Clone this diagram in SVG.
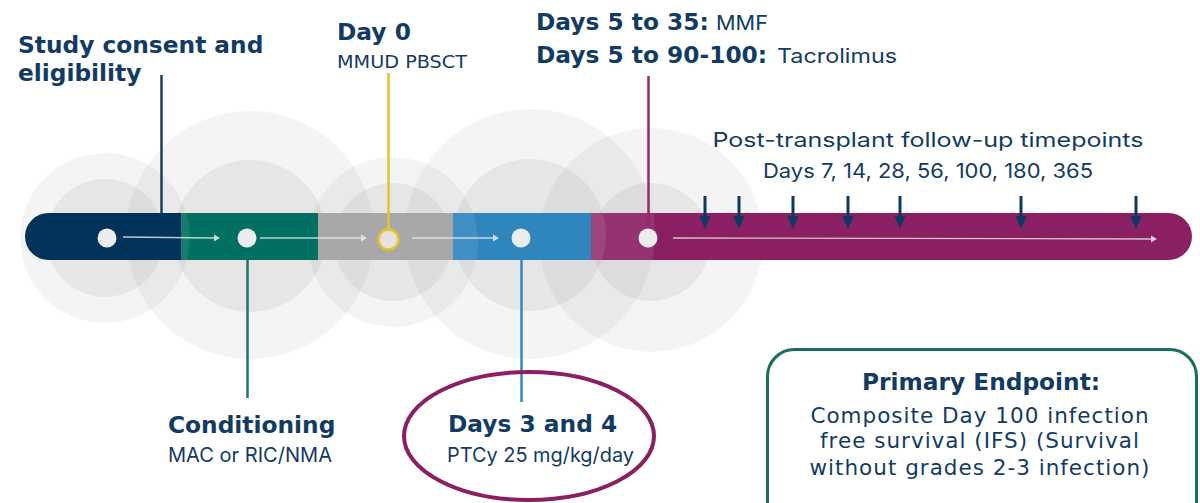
<svg xmlns="http://www.w3.org/2000/svg" width="1200" height="503" viewBox="0 0 1200 503">
<style>
.t{fill:#123b64}
.b{font-family:"DejaVu Sans",Verdana,sans-serif;font-weight:bold;font-size:23.3px}
.r{font-family:"DejaVu Sans",Verdana,sans-serif;font-size:18.5px}
.g{font-family:Inter,"Noto Sans",sans-serif;font-size:20px}
.body{font-family:"DejaVu Sans",Verdana,sans-serif;font-size:21.5px;letter-spacing:1px}
.co{fill:#000;fill-opacity:0.042}
.ci{fill:#000;fill-opacity:0.055}
.dot{fill:#ececec}
.flow{stroke:#ececec;stroke-opacity:0.8;stroke-width:1.3;fill:none}
.ah{fill:#ececec;fill-opacity:0.85}
.tick{fill:#0d3a63}
.ov{fill:#fff;fill-opacity:0.09}
</style>
<defs>
<clipPath id="cTeal"><rect x="181" y="213" width="137" height="47"/></clipPath>
<clipPath id="cBlue"><rect x="453" y="213" width="138" height="47"/></clipPath>
<clipPath id="cPurp"><rect x="591" y="213" width="601" height="47"/></clipPath>
</defs>

<g id="halos">
<circle class="co" cx="105" cy="238" r="85"/>
<circle class="ci" cx="105" cy="238" r="59"/>
<circle class="co" cx="250" cy="235" r="124"/>
<circle class="ci" cx="250" cy="236" r="76"/>
<circle class="co" cx="393" cy="242" r="85"/>
<circle class="ci" cx="393" cy="242" r="59"/>
<circle class="co" cx="530" cy="234" r="125"/>
<circle class="ci" cx="530" cy="235" r="76"/>
<circle class="co" cx="651" cy="240" r="112"/>
<circle class="ci" cx="651" cy="242" r="59"/>
</g>

<g id="timeline-bar">
<path d="M48.5 213 H181 V260 H48.5 A23.5 23.5 0 0 1 48.5 213 Z" fill="#01335a"/>
<rect x="181" y="213" width="137" height="47" fill="#016f62"/>
<rect x="318" y="213" width="135" height="47" fill="#a8a8a8"/>
<rect x="453" y="213" width="138" height="47" fill="#2e86bd"/>
<path d="M591 213 H1168.5 A23.5 23.5 0 0 1 1168.5 260 H591 Z" fill="#8a1f62"/>
<circle class="ov" cx="105" cy="238" r="85" clip-path="url(#cTeal)"/>
<circle class="ov" cx="393" cy="242" r="85" clip-path="url(#cBlue)"/>
<circle class="ov" cx="530" cy="234" r="125" clip-path="url(#cPurp)"/>
<circle class="ov" cx="530" cy="235" r="76" clip-path="url(#cPurp)"/>
</g>

<g id="connectors">
<line x1="161.5" y1="75" x2="161.5" y2="213" stroke="#1c3e66" stroke-width="2.5"/>
<line x1="388.5" y1="73" x2="388.5" y2="229" stroke="#e6c22c" stroke-width="2.5"/>
<line x1="648.5" y1="76" x2="648.5" y2="229" stroke="#962a6c" stroke-width="2.5"/>
<line x1="247.5" y1="260" x2="247.5" y2="398" stroke="#19786a" stroke-width="2.5"/>
<line x1="521.5" y1="260" x2="521.5" y2="402" stroke="#2f88c8" stroke-width="2.5"/>
<line class="flow" x1="123" y1="237" x2="214" y2="238"/>
<path class="ah" d="M214 234.5 L220 238 L214 241.5 Z"/>
<line class="flow" x1="260" y1="238" x2="361" y2="238"/>
<path class="ah" d="M361 234.5 L367 238 L361 241.5 Z"/>
<line class="flow" x1="412" y1="238" x2="493" y2="238"/>
<path class="ah" d="M493 234.5 L499 238 L493 241.5 Z"/>
<line class="flow" x1="673" y1="238" x2="1151" y2="239"/>
<path class="ah" d="M1151 235.5 L1157 239 L1151 242.5 Z"/>
</g>

<g id="followup-ticks">
<g class="tick">
<rect x="703.5" y="196" width="3" height="22"/><path d="M699.5 216 H710.5 L705 229 Z"/>
<rect x="737.5" y="196" width="3" height="22"/><path d="M733.5 216 H744.5 L739 229 Z"/>
<rect x="791.5" y="196" width="3" height="22"/><path d="M787.5 216 H798.5 L793 229 Z"/>
<rect x="846.5" y="196" width="3" height="22"/><path d="M842.5 216 H853.5 L848 229 Z"/>
<rect x="898.5" y="196" width="3" height="22"/><path d="M894.5 216 H905.5 L900 229 Z"/>
<rect x="1019.5" y="196" width="3" height="22"/><path d="M1015.5 216 H1026.5 L1021 229 Z"/>
<rect x="1134.5" y="196" width="3" height="22"/><path d="M1130.5 216 H1141.5 L1136 229 Z"/>
</g>
</g>

<g id="node-consent">
<circle class="dot" cx="107" cy="238" r="9.5"/>
<text class="t b" x="18" y="53">Study consent and</text>
<text class="t b" x="18" y="81">eligibility</text>
</g>

<g id="node-conditioning">
<circle class="dot" cx="247" cy="238" r="9.5"/>
<text class="t b" x="168" y="433">Conditioning</text>
<text class="t g" x="168" y="462" textLength="164" lengthAdjust="spacingAndGlyphs">MAC or RIC/NMA</text>
</g>

<g id="node-day0">
<circle cx="388.5" cy="239.5" r="10" fill="#e2e2e2" stroke="#e6c22c" stroke-width="2.5"/>
<text class="t b" x="337" y="40">Day 0</text>
<text class="t r" x="337" y="68" textLength="130" lengthAdjust="spacingAndGlyphs">MMUD PBSCT</text>
</g>

<g id="node-ptcy">
<circle class="dot" cx="521" cy="238" r="9.5"/>
<ellipse cx="529" cy="436" rx="125" ry="64" fill="none" stroke="#8a1f62" stroke-width="4"/>
<text class="t b" x="448" y="432">Days 3 and 4</text>
<text class="t g" x="447" y="462" textLength="187" lengthAdjust="spacingAndGlyphs">PTCy 25 mg/kg/day</text>
</g>

<g id="node-immuno">
<circle class="dot" cx="648" cy="238" r="9.5"/>
<text class="t b" x="536" y="30">Days 5 to 35:</text>
<text class="t g" x="716" y="30" font-size="21" textLength="52" lengthAdjust="spacingAndGlyphs">MMF</text>
<text class="t b" x="536" y="63">Days 5 to 90-100:</text>
<text class="t g" x="777" y="63" font-size="21" textLength="120" lengthAdjust="spacingAndGlyphs">Tacrolimus</text>
</g>

<g id="node-followup">
<text class="t g" x="928" y="147" text-anchor="middle" font-size="22" textLength="431" lengthAdjust="spacingAndGlyphs">Post-transplant follow-up timepoints</text>
<text class="t g" x="928" y="178" text-anchor="middle" font-size="22" textLength="330" lengthAdjust="spacingAndGlyphs">Days 7, 14, 28, 56, 100, 180, 365</text>
</g>

<g id="node-endpoint">
<rect x="767.5" y="349.5" width="429" height="180" rx="27" fill="none" stroke="#1b6e5e" stroke-width="3"/>
<text class="t b" x="981" y="390" text-anchor="middle">Primary Endpoint:</text>
<text class="t body" x="980" y="423" text-anchor="middle">Composite Day 100 infection</text>
<text class="t body" x="980" y="448" text-anchor="middle">free survival (IFS) (Survival</text>
<text class="t body" x="980" y="475" text-anchor="middle">without grades 2-3 infection)</text>
</g>
</svg>
